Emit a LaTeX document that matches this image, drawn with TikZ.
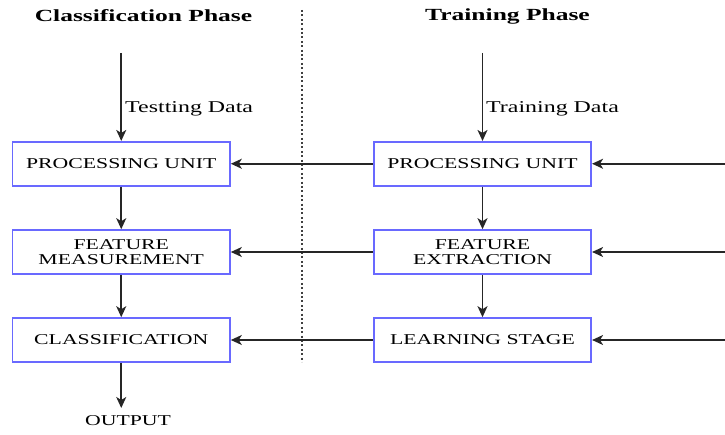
\documentclass[tikz,border=0pt]{standalone}
\usepackage{fontspec}
\setmainfont{Liberation Serif}
\newfontfamily\boxfont[FakeStretch=1.45]{Liberation Serif}
\newfontfamily\headfont[FakeStretch=1.5]{Liberation Serif}
\usetikzlibrary{arrows.meta}
\definecolor{boxblue}{RGB}{105,105,255}
\tikzset{
  box/.style={draw=boxblue, line width=1.6pt, fill=white, minimum width=217.5pt, minimum height=44pt,
    inner sep=0pt, align=center, font={\boxfont\fontsize{15}{15.5}\selectfont}},
  conn/.style={line width=1.6pt, draw=black!85, -{Stealth[length=11pt,width=10pt,inset=3pt]}},
  lbl/.style={inner sep=0pt, font={\boxfont\fontsize{16.5}{18}\selectfont}},
  head/.style={inner sep=0pt, font={\headfont\bfseries\fontsize{17}{19}\selectfont}},
  divider/.style={line width=1.4pt, dash pattern=on 2pt off 2.4pt, draw=black!75}
}
\begin{document}
\begin{tikzpicture}[x=1pt,y=-1pt]
\useasboundingbox (0,0) rectangle (725,435);
% headers
\node[head] (hc) at (143.5,16) {Classification Phase};
\node[head] (ht) at (507.5,16) {Training Phase};
% divider
\coordinate (dtop) at (302,10);
\coordinate (dbot) at (302,362);
\draw[divider] (dtop) -- (dbot);
% boxes
\node[box] (lpu) at (121.25,163.75) {PROCESSING UNIT};
\node[box] (lfm) at (121.25,252) {FEATURE\\MEASUREMENT};
\node[box] (lcl) at (121.25,340) {CLASSIFICATION};
\node[box] (rpu) at (482.5,163.75) {PROCESSING UNIT};
\node[box] (rfe) at (482.5,252) {FEATURE\\EXTRACTION};
\node[box] (rls) at (482.5,340) {LEARNING STAGE};
% inputs
\coordinate (lin) at (121.25,53);
\coordinate (rin) at (482.5,53);
\draw[conn] (lin) -- (lpu.north);
\draw[conn] (rin) -- (rpu.north);
\node[lbl, anchor=west] (ltd) at (125,109) {Testting Data};
\node[lbl, anchor=west] (rtd) at (486,109) {Training Data};
% vertical flows
\draw[conn] (lpu) -- (lfm);
\draw[conn] (lfm) -- (lcl);
\draw[conn] (rpu) -- (rfe);
\draw[conn] (rfe) -- (rls);
% horizontal
\draw[conn] (rpu) -- (lpu);
\draw[conn] (rfe) -- (lfm);
\draw[conn] (rls) -- (lcl);
\coordinate (e1) at (725,163.75);
\coordinate (e2) at (725,252);
\coordinate (e3) at (725,340);
\draw[conn] (e1) -- (rpu);
\draw[conn] (e2) -- (rfe);
\draw[conn] (e3) -- (rls);
% output
\coordinate (oend) at (121.25,408);
\draw[conn] (lcl) -- (oend);
\node[lbl, font={\boxfont\fontsize{15}{16}\selectfont}] (out) at (128,421) {OUTPUT};
\end{tikzpicture}
\end{document}
